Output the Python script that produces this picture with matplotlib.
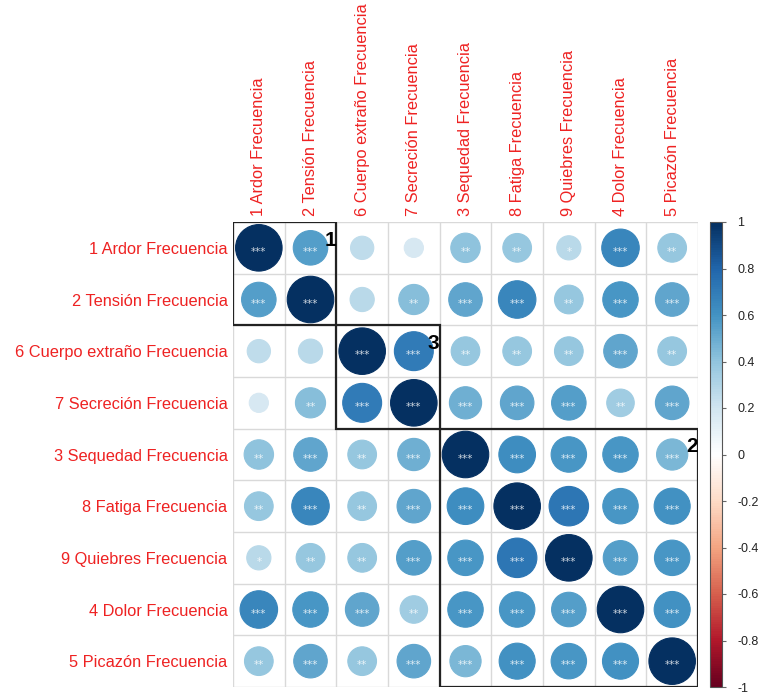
import numpy as np
import matplotlib
matplotlib.use("Agg")
import matplotlib.pyplot as plt
from matplotlib.patches import Circle, Rectangle
from matplotlib.colors import LinearSegmentedColormap, Normalize
from matplotlib.colorbar import ColorbarBase

plt.rcParams['font.family'] = ['Liberation Sans', 'DejaVu Sans']

# variables in hierarchical-cluster order
labels = ["1 Ardor Frecuencia", "2 Tensión Frecuencia", "6 Cuerpo extraño Frecuencia",
          "7 Secreción Frecuencia", "3 Sequedad Frecuencia", "8 Fatiga Frecuencia",
          "9 Quiebres Frecuencia", "4 Dolor Frecuencia", "5 Picazón Frecuencia"]

# spearman correlations
r_ardor     = [1.00, 0.55, 0.25, 0.17, 0.40, 0.38, 0.27, 0.65, 0.38]
r_tension   = [0.55, 1.00, 0.27, 0.42, 0.52, 0.65, 0.38, 0.58, 0.52]
r_cuerpo    = [0.25, 0.27, 1.00, 0.70, 0.38, 0.38, 0.38, 0.52, 0.38]
r_secrecion = [0.17, 0.42, 0.70, 1.00, 0.48, 0.52, 0.55, 0.35, 0.52]
r_sequedad  = [0.40, 0.52, 0.38, 0.48, 1.00, 0.62, 0.58, 0.58, 0.45]
r_fatiga    = [0.38, 0.65, 0.38, 0.52, 0.62, 1.00, 0.72, 0.58, 0.60]
r_quiebres  = [0.27, 0.38, 0.38, 0.55, 0.58, 0.72, 1.00, 0.55, 0.58]
r_dolor     = [0.65, 0.58, 0.52, 0.35, 0.58, 0.58, 0.55, 1.00, 0.60]
r_picazon   = [0.38, 0.52, 0.38, 0.52, 0.45, 0.60, 0.58, 0.60, 1.00]

# significance stars per cell
s_ardor     = ["***", "***", "", "", "**", "**", "*", "***", "**"]
s_tension   = ["***", "***", "", "**", "***", "***", "**", "***", "***"]
s_cuerpo    = ["", "", "***", "***", "**", "**", "**", "***", "**"]
s_secrecion = ["", "**", "***", "***", "***", "***", "***", "**", "***"]
s_sequedad  = ["**", "***", "**", "***", "***", "***", "***", "***", "***"]
s_fatiga    = ["**", "***", "**", "***", "***", "***", "***", "***", "***"]
s_quiebres  = ["*", "**", "**", "***", "***", "***", "***", "***", "***"]
s_dolor     = ["***", "***", "***", "**", "***", "***", "***", "***", "***"]
s_picazon   = ["**", "***", "**", "***", "***", "***", "***", "***", "***"]

# clusters: (first index, last index, tag)
clusters = [(0, 1, "1"), (2, 3, "3"), (4, 8, "2")]

R = np.array([r_ardor, r_tension, r_cuerpo, r_secrecion, r_sequedad,
              r_fatiga, r_quiebres, r_dolor, r_picazon])
S = [s_ardor, s_tension, s_cuerpo, s_secrecion, s_sequedad,
     s_fatiga, s_quiebres, s_dolor, s_picazon]
n = len(labels)

cmap = LinearSegmentedColormap.from_list("rdbu", [
    "#67001F", "#B2182B", "#D6604D", "#F4A582", "#FDDBC7", "#FFFFFF",
    "#D1E5F0", "#92C5DE", "#4393C3", "#2166AC", "#053061"], N=200)
norm = Normalize(-1, 1)

fig = plt.figure(figsize=(7.6, 6.93), dpi=100)
ax = fig.add_axes([233 / 760, 6 / 693, 465 / 760, 465 / 693])
ax.set_xlim(-0.5, n - 0.5)
ax.set_ylim(n - 0.5, -0.5)

# grid
for k in range(n + 1):
    ax.axhline(k - 0.5, color="#d9d9d9", lw=1, zorder=1)
    ax.axvline(k - 0.5, color="#d9d9d9", lw=1, zorder=1)

for i in range(n):
    for j in range(n):
        v = R[i, j]
        col = cmap(norm(v))
        rad = 0.9 * np.sqrt(abs(v)) / 2
        ax.add_patch(Circle((j, i), rad, facecolor=col, edgecolor=col, lw=0.8, zorder=2))
        if S[i][j]:
            ax.text(j, i + 0.08, S[i][j], ha="center", va="center", fontsize=7.5,
                    family="DejaVu Sans", color="white", alpha=0.8, zorder=3)

for a, b, tag in clusters:
    ax.add_patch(Rectangle((a - 0.5, a - 0.5), b - a + 1, b - a + 1, fill=False,
                           edgecolor="#222222", lw=1.6, zorder=4))
    ax.text(b + 0.38, a - 0.15, tag, ha="center", va="center", fontsize=15,
            fontweight="bold", color="black", zorder=5)

ax.set_xticks(range(n))
ax.set_xticklabels(labels, rotation=90, color="#ee2222", fontsize=11.8)
ax.xaxis.tick_top()
ax.set_yticks(range(n))
ax.set_yticklabels(labels, color="#ee2222", fontsize=11.8)
ax.tick_params(length=0, pad=4)
for sp in ax.spines.values():
    sp.set_visible(False)

cax = fig.add_axes([710 / 760, 6 / 693, 12 / 760, 465 / 693])
cb = ColorbarBase(cax, cmap=cmap, norm=norm, ticks=np.round(np.arange(-1, 1.01, 0.2), 1))
cb.ax.set_yticklabels(["-1", "-0.8", "-0.6", "-0.4", "-0.2", "0", "0.2", "0.4", "0.6", "0.8", "1"])
cb.ax.tick_params(labelsize=9, length=3, color="#666666", labelcolor="#222222", pad=8)
cb.outline.set_edgecolor("#555555")
cb.outline.set_linewidth(0.8)

fig.savefig("out.png", dpi=100)
